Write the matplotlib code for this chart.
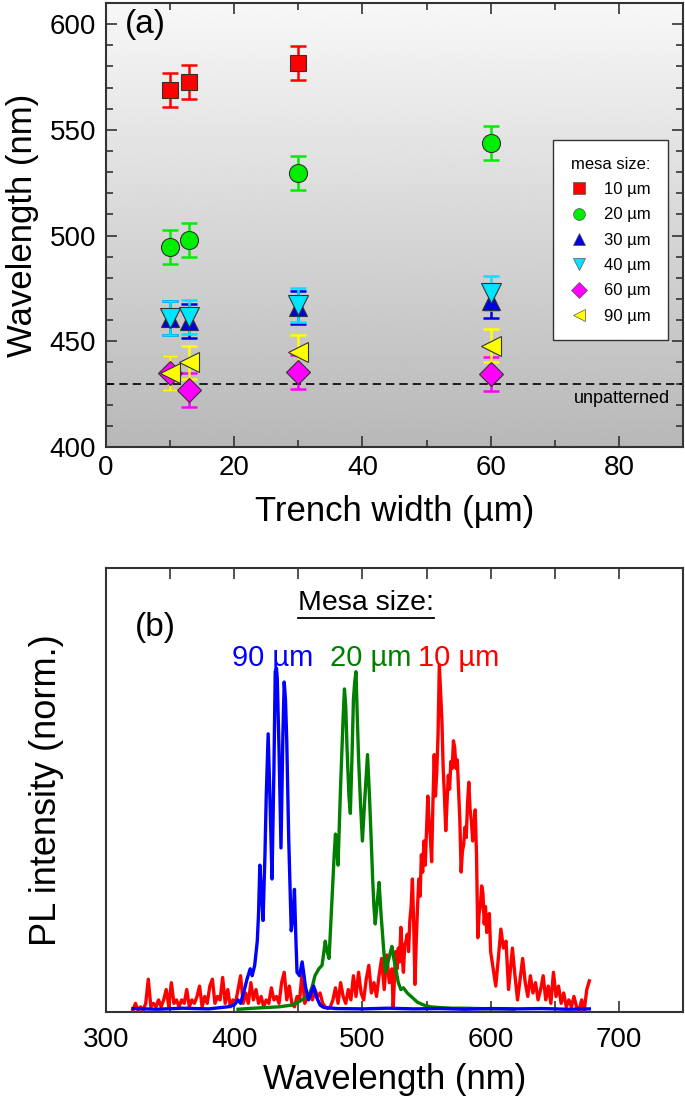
import numpy as np
import matplotlib
matplotlib.use('Agg')
import matplotlib.pyplot as plt
from matplotlib.lines import Line2D
from matplotlib.ticker import MultipleLocator

plt.rcParams['font.family'] = ['Liberation Sans', 'DejaVu Sans']

# ---- panel (a): peak wavelength vs trench width ----
trench = [10, 13, 30, 60]
mesa_labels = ['10 µm', '20 µm', '30 µm', '40 µm', '60 µm', '90 µm']
wl_10 = [569, 572.5, 581.5, np.nan]
wl_20 = [494.5, 498, 529.5, 543.8]
wl_30 = [461, 459.5, 466, 469]
wl_40 = [461, 461.5, 467, 473]
wl_60 = [435, 427, 435.5, 434.5]
wl_90 = [435, 440, 445, 448]
err = [8, 8, 8, 8]
unpatterned = 430

# ---- panel (b): normalised PL spectra ----
red_wl = ([321, 323, 325, 327, 329, 331, 333, 335, 337, 339, 341, 343, 345, 347, 349,
           351, 353, 355, 357, 359, 361, 363, 365, 367, 369, 371, 373, 375, 377, 379,
           381, 383, 385, 387, 389, 391, 393, 395, 397, 399, 401, 403, 405, 407, 409,
           411, 413, 415, 417, 419, 421, 423, 425, 427, 429, 431, 433, 435, 437, 439,
           441, 443, 445, 447, 449, 451, 453, 455, 457, 459, 461, 463, 465, 467, 469,
           471, 473, 475, 477, 479, 481, 483, 485, 487, 489, 491, 493, 495, 497, 499,
           501, 503, 505, 507, 509, 511, 513, 515, 517, 519, 521, 523, 524]
          + list(range(526, 601))
          + [602, 604, 606, 608, 610, 612, 614, 616, 617, 619, 621, 623,
             625, 627, 629, 631, 633, 635, 637, 639, 641, 643, 645, 647, 649, 651, 653,
             655, 657, 659, 661, 663, 665, 667, 669, 671, 673, 675, 677])
red_int = ([0.00, 0.02, 0.00, 0.01, 0.00, 0.02, 0.09, 0.01, 0.02, 0.01, 0.03, 0.01, 0.03, 0.06, 0.01,
            0.08, 0.02, 0.03, 0.01, 0.03, 0.02, 0.06, 0.01, 0.03, 0.02, 0.04, 0.07, 0.01, 0.04, 0.02,
            0.07, 0.09, 0.02, 0.04, 0.03, 0.095, 0.02, 0.06, 0.01, 0.03, 0.02, 0.06, 0.10, 0.02, 0.05,
            0.02, 0.08, 0.03, 0.06, 0.02, 0.04, 0.01, 0.03, 0.02, 0.065, 0.03, 0.04, 0.02, 0.08, 0.11,
            0.03, 0.07, 0.02, 0.01, 0.04, 0.03, 0.11, 0.02, 0.04, 0.05, 0.03, 0.06, 0.04, 0.05, 0.02,
            0.01, 0.005, 0.01, 0.03, 0.065, 0.02, 0.08, 0.04, 0.02, 0.06, 0.03, 0.10, 0.04, 0.11, 0.05,
            0.03, 0.09, 0.13, 0.05, 0.08, 0.04, 0.10, 0.15, 0.06, 0.16, 0.08, 0.12, 0.01]
           + [0.17, 0.12, 0.18, 0.14, 0.24, 0.16, 0.11, 0.19, 0.20, 0.22, 0.17, 0.26, 0.30, 0.38, 0.25,
              0.075, 0.20, 0.30, 0.38, 0.33, 0.45, 0.40, 0.49, 0.42, 0.52, 0.62, 0.55, 0.50, 0.43, 0.60,
              0.74, 0.62, 0.69, 0.80, 1.00, 0.92, 0.84, 0.70, 0.62, 0.52, 0.60, 0.68, 0.64, 0.72, 0.70,
              0.78, 0.76, 0.70, 0.725, 0.64, 0.55, 0.40, 0.46, 0.48, 0.53, 0.50, 0.60, 0.66, 0.58, 0.55,
              0.49, 0.52, 0.58, 0.45, 0.21, 0.28, 0.30, 0.36, 0.34, 0.25, 0.30, 0.225, 0.26, 0.28, 0.17]
           + [0.12, 0.07, 0.15, 0.235, 0.18, 0.20, 0.06, 0.14, 0.18, 0.10, 0.03, 0.09,
              0.15, 0.08, 0.04, 0.10, 0.05, 0.08, 0.03, 0.06, 0.10, 0.03, 0.07, 0.02, 0.11, 0.04, 0.07,
              0.02, 0.05, 0.01, 0.03, 0.01, 0.04, 0.01, 0.00, 0.03, 0.00, 0.06, 0.085])

green_wl = [403, 415, 425, 435, 445, 451.6, 455, 459, 461, 463, 466, 468.5, 470, 471, 472.5,
            474, 476, 478, 479, 480, 481, 483, 485, 486, 487, 488, 489.5, 490.6, 492, 493,
            494, 495, 496, 497, 498.5, 500, 502, 504, 505.5, 507, 508, 509, 510, 511.5, 513,
            514.5, 516.5, 518, 520, 522, 523, 524.5, 526, 528, 530, 532, 535, 538, 543, 548,
            553, 560, 570, 580, 590, 600, 610, 618]
green_int = [0.003, 0.006, 0.008, 0.01, 0.015, 0.027, 0.035, 0.05, 0.07, 0.10, 0.12, 0.13, 0.17, 0.20, 0.17,
             0.15, 0.30, 0.45, 0.51, 0.47, 0.42, 0.65, 0.85, 0.93, 0.88, 0.76, 0.62, 0.57, 0.75, 0.90,
             0.95, 0.98, 0.85, 0.73, 0.60, 0.49, 0.62, 0.74, 0.62, 0.48, 0.38, 0.30, 0.25, 0.31, 0.37,
             0.28, 0.18, 0.11, 0.14, 0.17, 0.185, 0.15, 0.12, 0.08, 0.06, 0.065, 0.05, 0.04, 0.023, 0.015,
             0.01, 0.008, 0.006, 0.006, 0.005, 0.004, 0.004, 0.003]

blue_wl = [321, 340, 360, 380, 395, 400, 403, 405, 408, 410, 412.5, 414, 416, 418, 419,
           420, 421, 422.5, 424, 425, 426.5, 428, 429.5, 431, 432, 433, 433.6, 435, 436.5, 438,
           439, 440, 441, 442.5, 444.5, 446, 447, 448, 449, 451, 453, 454.5, 455.5, 458, 460,
           462, 464, 467, 470, 480, 500, 520, 540, 560, 580, 600, 620, 640, 660, 677]
blue_int = [0.005, 0.003, 0.006, 0.004, 0.01, 0.015, 0.03, 0.02, 0.06, 0.09, 0.12, 0.10, 0.13, 0.20, 0.28,
            0.42, 0.36, 0.26, 0.45, 0.62, 0.80, 0.60, 0.38, 0.70, 0.98, 0.99, 0.96, 0.75, 0.47, 0.80,
            0.95, 0.90, 0.78, 0.50, 0.23, 0.28, 0.35, 0.22, 0.11, 0.10, 0.14, 0.10, 0.07, 0.03, 0.05,
            0.07, 0.04, 0.015, 0.008, 0.005, 0.004, 0.006, 0.004, 0.005, 0.003, 0.005, 0.004, 0.005, 0.003, 0.004]

fig = plt.figure(figsize=(6.85, 11.03), dpi=100)
ax1 = fig.add_axes([0.1547, 0.5947, 0.8423, 0.4026])
ax2 = fig.add_axes([0.1547, 0.0825, 0.8423, 0.4025])

# grey gradient background of panel (a)
grad = np.linspace(0.97, 0.72, 256).reshape(-1, 1)
ax1.imshow(grad, cmap='gray', vmin=0, vmax=1, aspect='auto',
           extent=[0, 1, 0, 1], transform=ax1.transAxes, zorder=0)

series = [
    (wl_10, 's', 'red', 11),
    (wl_20, 'o', '#00ee00', 13),
    (wl_30, '^', '#0000dd', 13),
    (wl_40, 'v', '#00e5ff', 14),
    (wl_60, 'D', '#ff00ff', 12),
    (wl_90, '<', '#ffff00', 14),
]
handles = []
for (vals, mk, col, ms), lab in zip(series, mesa_labels):
    ax1.errorbar(trench, vals, yerr=err, fmt='none', ecolor=col, elinewidth=1.8,
                 capsize=6, capthick=1.8, zorder=3)
    ax1.plot(trench, vals, linestyle='none', marker=mk, ms=ms, mfc=col,
             mec='#333333', mew=0.8, zorder=4)
    handles.append(Line2D([], [], linestyle='none', marker=mk, ms=8.5, mfc=col,
                          mec='#555555', mew=0.5, label=lab))

ax1.axhline(unpatterned, color='black', lw=1.2, ls=(0, (5, 3)), zorder=2)
ax1.text(88, unpatterned - 3, 'unpatterned', ha='right', va='top', fontsize=13)
ax1.text(3, 600, '(a)', ha='left', va='center', fontsize=24)

leg = ax1.legend(handles=handles, title='mesa size:', loc='upper left',
                 bbox_to_anchor=(0.76, 0.71), fontsize=12, title_fontsize=12,
                 frameon=True, fancybox=False, edgecolor='#333333', framealpha=1,
                 borderpad=1.0, labelspacing=0.62, handletextpad=0.9, handlelength=1.2)
leg.get_frame().set_linewidth(1.0)

ax1.set_xlim(0, 90)
ax1.set_ylim(400, 610)
ax1.xaxis.set_major_locator(MultipleLocator(20))
ax1.xaxis.set_minor_locator(MultipleLocator(10))
ax1.yaxis.set_major_locator(MultipleLocator(50))
ax1.yaxis.set_minor_locator(MultipleLocator(10))
ax1.set_xlabel('Trench width (µm)', fontsize=25, labelpad=10)
ax1.set_ylabel('Wavelength (nm)', fontsize=25, labelpad=8)

ax2.plot(red_wl, red_int, color='red', lw=2.4, zorder=3)
ax2.plot(green_wl, green_int, color='#007f00', lw=2.4, zorder=4)
ax2.plot(blue_wl, blue_int, color='#0000ff', lw=2.4, zorder=5)
ax2.set_xlim(300, 750)
ax2.set_ylim(-0.005, 1.28)
ax2.xaxis.set_major_locator(MultipleLocator(100))
ax2.xaxis.set_minor_locator(MultipleLocator(50))
ax2.set_yticks([])
ax2.set_xlabel('Wavelength (nm)', fontsize=25, labelpad=7)
ax2.set_ylabel('PL intensity (norm.)', fontsize=26, labelpad=30)

ax2.text(0.05, 0.867, '(b)', transform=ax2.transAxes, fontsize=24, va='center')
ax2.text(0.45, 0.921, 'Mesa size:', transform=ax2.transAxes, fontsize=20.5,
         ha='center', va='center')
ax2.plot([0.332, 0.568], [0.887, 0.887], transform=ax2.transAxes, color='black', lw=1.3)
ax2.text(0.288, 0.797, '90 µm', transform=ax2.transAxes, fontsize=21,
         ha='center', va='center', color='#0000ff')
ax2.text(0.458, 0.797, '20 µm', transform=ax2.transAxes, fontsize=21,
         ha='center', va='center', color='#007f00')
ax2.text(0.611, 0.797, '10 µm', transform=ax2.transAxes, fontsize=21,
         ha='center', va='center', color='red')

for ax in (ax1, ax2):
    for sp in ax.spines.values():
        sp.set_color('#333333')
        sp.set_linewidth(1.5)
    ax.tick_params(which='both', direction='in', labelsize=20, color='#333333', width=1.2)
    ax.tick_params(which='major', length=8)
    ax.tick_params(which='minor', length=5)
ax1.tick_params(which='both', top=True, right=True)
ax1.tick_params(axis='y', pad=7)
ax1.tick_params(axis='x', pad=6)
ax2.tick_params(which='both', top=True, left=False, right=False)
ax2.tick_params(which='minor', length=8)
ax2.tick_params(axis='x', pad=11)

fig.savefig('out.png', dpi=100)
